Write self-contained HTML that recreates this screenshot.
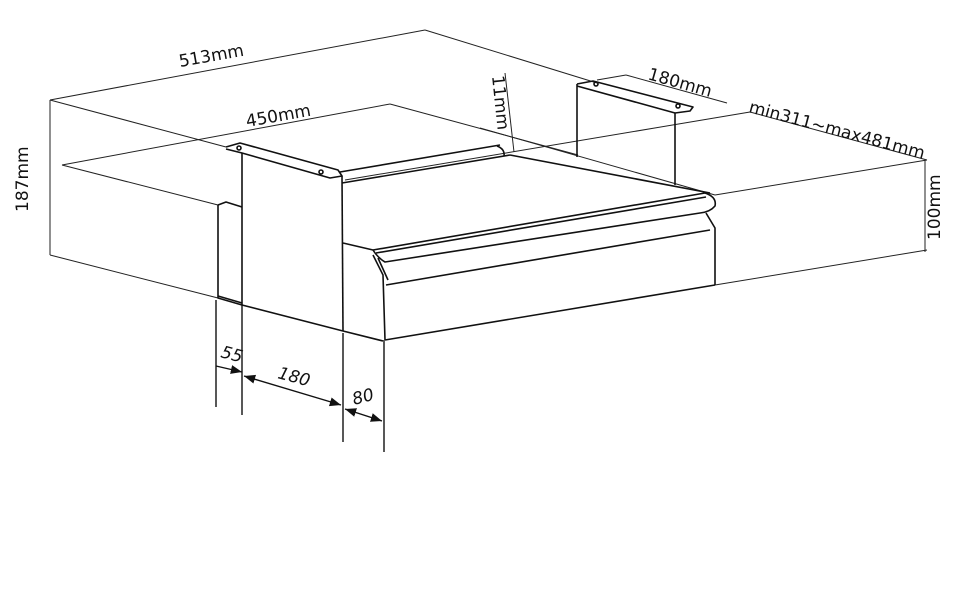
<!DOCTYPE html>
<html><head><meta charset="utf-8"><style>
html,body{margin:0;padding:0;background:#fff;}
svg{display:block}
text{font-family:"DejaVu Sans","Liberation Sans",sans-serif;fill:#111;}
</style></head><body>
<svg width="960" height="600" viewBox="0 0 960 600" xmlns="http://www.w3.org/2000/svg">
<defs>
<marker id="a" viewBox="0 0 10 10" refX="10" refY="5" markerWidth="8" markerHeight="8" orient="auto-start-reverse"><path d="M0,1 L10,5 L0,9 z" fill="#111"/></marker>
</defs>
<g stroke="#222" stroke-width="1" fill="none">
<line x1="50" y1="100" x2="50" y2="255"/>
<line x1="50" y1="100" x2="425" y2="30"/>
<line x1="425" y1="30" x2="597" y2="83"/>
<line x1="50" y1="100" x2="226" y2="147"/>
<line x1="50" y1="255" x2="218" y2="298"/>
<line x1="62" y1="165" x2="390" y2="104"/>
<line x1="62" y1="165" x2="218" y2="205"/>
<line x1="390" y1="104" x2="578" y2="155"/>
<line x1="480" y1="128" x2="715" y2="195"/>
<line x1="345" y1="180" x2="750" y2="112"/>
<line x1="750" y1="112" x2="927" y2="160"/>
<line x1="715" y1="195" x2="927" y2="160"/>
<line x1="715" y1="285" x2="927" y2="250"/>
<line x1="925" y1="160" x2="925" y2="252"/>
<line x1="626" y1="75" x2="727" y2="103"/>
<line x1="597" y1="80" x2="626" y2="75"/>
<line x1="505" y1="73" x2="514" y2="152"/>
</g>
<g stroke="#111" stroke-width="1.4" fill="none">
<line x1="216" y1="300" x2="216" y2="407"/>
<line x1="242" y1="305" x2="242" y2="415"/>
<line x1="343" y1="333" x2="343" y2="442"/>
<line x1="384" y1="340" x2="384" y2="452"/>
<line x1="216" y1="366" x2="242" y2="372" marker-end="url(#a)"/>
<line x1="244" y1="376" x2="341" y2="405" marker-start="url(#a)" marker-end="url(#a)"/>
<line x1="345" y1="409" x2="382" y2="421" marker-start="url(#a)" marker-end="url(#a)"/>
</g>
<g stroke="#111" stroke-width="1.6" fill="none" stroke-linejoin="round">
<polyline points="218,205 218,298 242,305"/>
<polyline points="218,205 226,202 242,207"/>
<line x1="218" y1="296" x2="242" y2="303"/>
<polyline points="226,147 240,143 338,170 342,176 330,178 242,153 226,149 z"/>
<line x1="242" y1="153" x2="242" y2="305"/>
<line x1="342" y1="176" x2="343" y2="331"/>
<polyline points="242,305 343,331 383,341"/>
<circle cx="239" cy="148" r="2"/><circle cx="321" cy="172" r="2"/>
<line x1="340" y1="172" x2="500" y2="145"/>
<line x1="342" y1="183" x2="510" y2="155"/>
<path d="M497,146 Q505,149 504,156"/>
<line x1="510" y1="155" x2="710" y2="193"/>
<path d="M373,250 L705,193 Q717,197 715,206 Q710,212 700,213 L385,262 Q378,258 373,250"/>
<line x1="376" y1="253" x2="706" y2="197"/>
<line x1="343" y1="243" x2="373" y2="250"/>
<polyline points="373,255 383,275 385,340"/>
<line x1="378" y1="258" x2="388" y2="280"/>
<line x1="386" y1="285" x2="710" y2="230"/>
<polyline points="706,213 715,228 715,285"/>
<line x1="385" y1="340" x2="715" y2="285"/>
<polyline points="577,84 593,81 693,107 690,111 675,113 577,86"/>
<line x1="577" y1="84" x2="577" y2="157"/>
<line x1="675" y1="113" x2="675" y2="185"/>
<circle cx="596" cy="84" r="2"/><circle cx="678" cy="106" r="2"/>
</g>
<g font-size="17">
<text transform="translate(180,67) rotate(-10)">513mm</text>
<text transform="translate(247,127) rotate(-10)">450mm</text>
<text transform="translate(647,79) rotate(16)">180mm</text>
<text transform="translate(748,112) rotate(15)">min311~max481mm</text>
<text transform="translate(492,76) rotate(84)">11mm</text>
<text transform="translate(28,212) rotate(-90)">187mm</text>
<text transform="translate(940,240) rotate(-90)">100mm</text>
<text font-style="italic" transform="translate(220,357) rotate(15)">55</text>
<text font-style="italic" transform="translate(277,378) rotate(15)">180</text>
<text font-style="italic" transform="translate(354,405) rotate(-15)">80</text>
</g>
</svg>
</body></html>
